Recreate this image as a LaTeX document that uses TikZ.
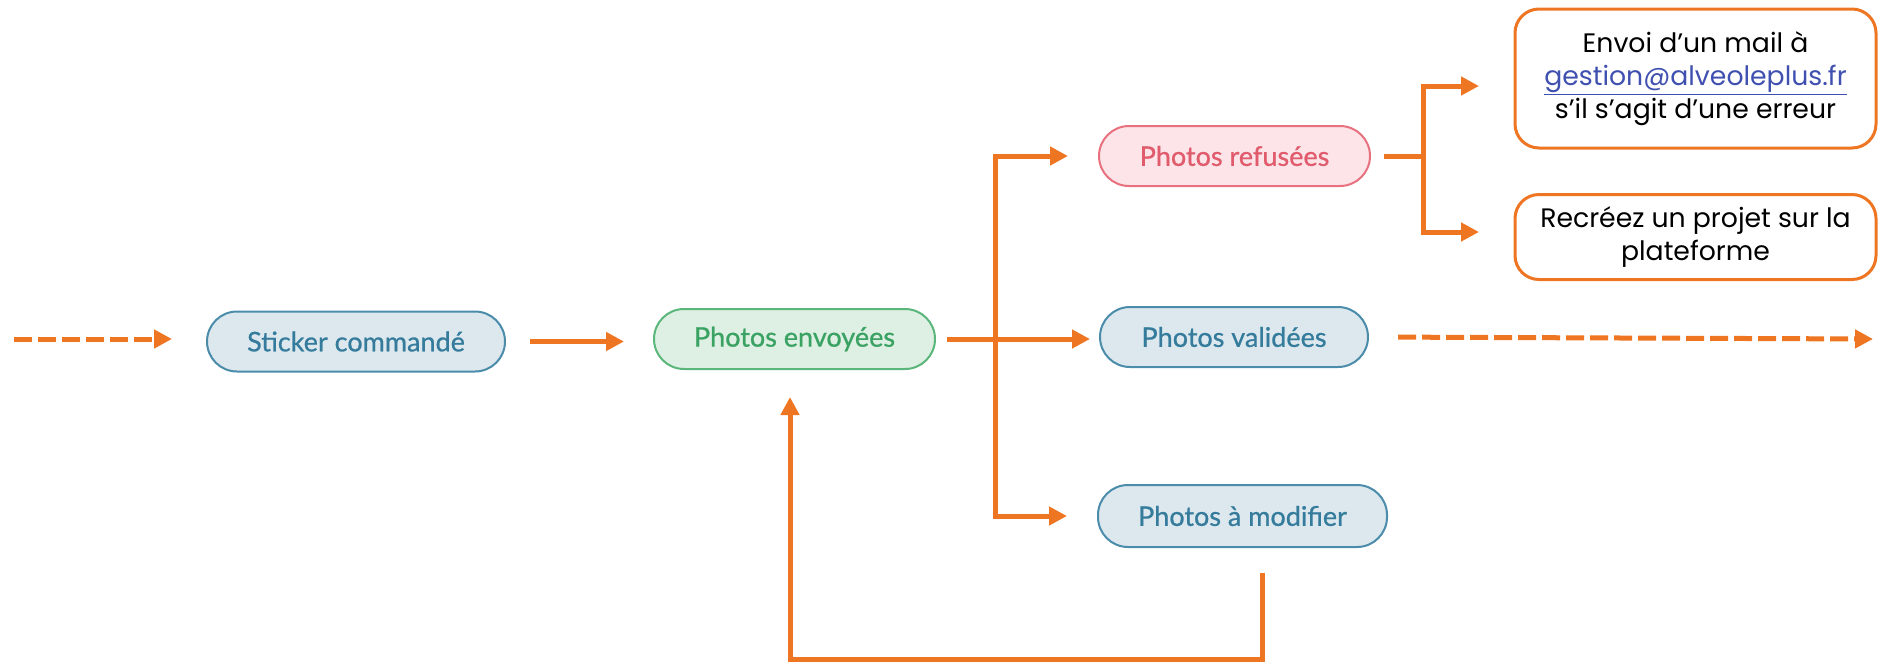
\documentclass[tikz,border=0pt]{standalone}
\usepackage{fontspec}
\setmainfont{Poppins}
\newfontfamily\pillfont[FakeBold=0.8]{Lato}
\usetikzlibrary{arrows.meta}
\definecolor{orng}{HTML}{EE7623}
\definecolor{bluetxt}{HTML}{357C9C}
\definecolor{bluefill}{HTML}{DCE8EE}
\definecolor{blueline}{HTML}{4A8CAA}
\definecolor{greentxt}{HTML}{3AA262}
\definecolor{greenfill}{HTML}{DDF0E3}
\definecolor{greenline}{HTML}{5BB67B}
\definecolor{redtxt}{HTML}{E05C6C}
\definecolor{redfill}{HTML}{FCE4E8}
\definecolor{redline}{HTML}{E8717F}
\definecolor{linkc}{HTML}{4050B0}
\begin{document}
\begin{tikzpicture}[x=1pt,y=-1pt,
 pill/.style={rectangle, rounded corners=30pt, minimum height=60pt, line width=2pt, font=\pillfont\fontsize{27}{30}\selectfont, inner sep=0pt},
 bluepill/.style={pill, draw=blueline, fill=bluefill, text=bluetxt},
 greenpill/.style={pill, draw=greenline, fill=greenfill, text=greentxt},
 redpill/.style={pill, draw=redline, fill=redfill, text=redtxt},
 infobox/.style={draw=orng, line width=3pt, rounded corners=24pt, align=center, font=\fontsize{26.7}{33}\selectfont, inner sep=0pt},
 conn/.style={draw=orng, line width=5pt},
 arr/.style={conn, -{Triangle[length=18pt,width=18pt]}},
 darr/.style={arr, dash pattern=on 18pt off 6pt},
]
\useasboundingbox (0,0) rectangle (1878,664);

\node[bluepill, minimum width=298pt] (s) at (356,341.5) {Sticker commandé};
\node[greenpill, minimum width=281pt] (e) at (794.5,339) {Photos envoyées};
\node[redpill, minimum width=271pt] (r) at (1234.5,156) {Photos refusées};
\node[bluepill, minimum width=268pt] (v) at (1234,337) {Photos validées};
\node[bluepill, minimum width=289pt, minimum height=62pt] (m) at (1242.5,516) {Photos à modifier};
\node[infobox, minimum width=361pt, minimum height=139pt] (b1) at (1695.5,78.5)
  {Envoi d’un mail à\\ \textcolor{linkc}{\underline{gestion@alveoleplus.fr}}\\ s’il s’agit d’une erreur};
\node[infobox, minimum width=361pt, minimum height=85pt] (b2) at (1695.5,237)
  {Recréez un projet sur la\\plateforme};

\coordinate (inL) at (14,339);
\coordinate (outR) at (1873,339);
\coordinate (j1) at (995,340);
\coordinate (j2) at (1423,154);
\coordinate (fb) at (790,659);
\coordinate (t1) at (1479,86);
\coordinate (t2) at (1479,232);

\draw[darr, shorten >=34pt] (inL) -- (inL -| s.west);
\draw[arr, shorten <=24pt, shorten >=29pt] (s.east) -- (s.east -| e.west);
\draw[arr, shorten <=11pt, shorten >=9pt] (e.east) -- (e.east -| v.west);
\draw[arr, shorten >=30pt] (j1) -- (j1 |- r) -- (r.west);
\draw[arr, shorten >=30pt] (j1) -- (j1 |- m) -- (m.west);
\draw[conn, shorten <=13pt] (r.east) -- (r.east -| j2);
\draw[arr] (r.east -| j2) -- (j2 |- t1) -- (t1);
\draw[arr] (r.east -| j2) -- (j2 |- t2) -- (t2);
\draw[darr, shorten <=29pt] (v.east) -- (outR);
\draw[arr, shorten <=25pt, shorten >=27pt] ([xshift=19.5pt]m.south) -- ([xshift=19.5pt]m.south |- fb) -- (fb) -- (fb |- e.south);
\end{tikzpicture}
\end{document}
